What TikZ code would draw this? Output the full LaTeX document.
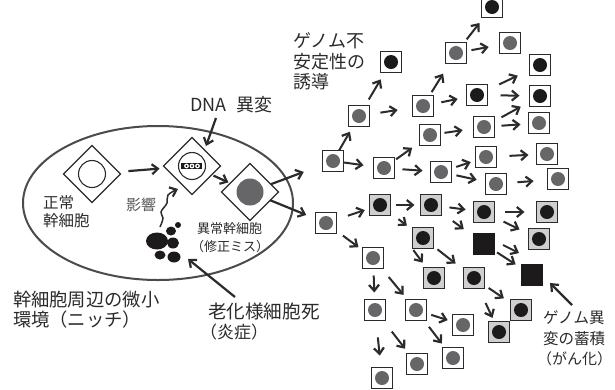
\documentclass[tikz,border=0pt]{standalone}
\usepackage{fontspec}
\setmainfont{Noto Sans CJK JP}
\usetikzlibrary{arrows.meta,shapes.geometric}
\definecolor{ink}{HTML}{2B2B2B}
\definecolor{cellgrey}{HTML}{666668}
\definecolor{cellblack}{HTML}{1C1A1B}
\definecolor{shade}{HTML}{CFCFCF}
\tikzset{
  x=1pt,y=-1pt,
  box/.style={draw=ink,line width=1.4pt,minimum size=21pt,inner sep=0pt,outer sep=0pt,rectangle},
  greycell/.style={box,fill=white,path picture={\fill[cellgrey] (path picture bounding box.center) circle (7pt);}},
  blackcell/.style={box,fill=white,path picture={\fill[cellblack] (path picture bounding box.center) circle (7pt);}},
  shadecell/.style={box,fill=shade,path picture={\fill[cellblack] (path picture bounding box.center) circle (7pt);}},
  solidcell/.style={box,draw=cellblack,fill=cellblack},
  stem/.style={draw=ink,line width=1.3pt,diamond,aspect=1,minimum width=57pt,minimum height=57pt,inner sep=0pt,outer sep=0pt,fill=white},
  arr/.style={draw=ink,line width=2pt,-{Straight Barb[length=6pt,width=10pt,line width=2.2pt]}},
  big/.style={arr,line width=2.2pt},
  lbl/.style={inner sep=0pt,outer sep=0pt,text=ink,align=left,anchor=north west},
  blob/.style={ellipse,fill=cellblack,inner sep=0pt,outer sep=0pt},
  sp/.style 2 args={shorten <=#1pt,shorten >=#2pt}
}
\begin{document}
\begin{tikzpicture}
\useasboundingbox (0,0) rectangle (615,389);
\fill[white] (0,0) rectangle (615,389);

% the niche
\draw[draw=ink!85,line width=2pt] (158,203) ellipse (135pt and 77pt);

% stem cell stages
\node[stem] (normal) at (92,174) {};
\draw[ink,line width=1.1pt] (normal.center) circle (13.5pt);
\node[stem] (mutated) at (192,166) {};
\draw[ink,line width=1.1pt] (mutated.center) circle (13.5pt);
\fill[cellblack] (181,163) rectangle (202,169);
\foreach \dx in {186.5,192,197.5}{
  \fill[white] (\dx,166) circle (2.4pt);
  \fill[cellblack] (\dx,166) circle (1.2pt);
}
\node[stem] (abnormal) at (250,192) {};
\fill[cellgrey] (abnormal.center) circle (13.5pt);

% senescent debris
\node[blob,minimum width=22pt,minimum height=17pt] (b1) at (157,241) {};
\node[blob,minimum width=10pt,minimum height=9pt] (b2) at (171,231) {};
\node[blob,minimum width=6pt,minimum height=6pt] (b3) at (178,225) {};
\node[blob,minimum width=12pt,minimum height=11pt] (b4) at (173,243) {};
\node[blob,minimum width=11pt,minimum height=9pt] (b5) at (160,255) {};
\node[blob,minimum width=13pt,minimum height=11pt] (b6) at (174,257) {};

% clonal cells, white with grey nucleus
\foreach \n/\px/\py in {A/333/161,B/359/116,D/384/168,E/423/106,F/430/135,G/441/172,
  H/456/53,J/484/127,K/486/157,L/496/184,N/510/43,Q/539/123,R/547/154,S/558/179,
  T/326/223,b/373/258,f/375/310,g/416/310,h/463/325,k/453/358,l/417/364,m/382/378}
  \node[greycell] (\n) at (\px,\py) {};
% white with black nucleus
\foreach \n/\px/\py in {C/391/62,I/477/95,M/492/7,O/540/65,P/540/96}
  \node[blackcell] (\n) at (\px,\py) {};
% shaded with black nucleus
\foreach \n/\px/\py in {U/380/205,V/431/205,W/484/212,X/547/212,Y/423/238,a/539/239,
  c/434/278,d/474/278,i/521/310,j/499/332}
  \node[shadecell] (\n) at (\px,\py) {};
% fully transformed
\node[solidcell] (Z) at (484,244) {};
\node[solidcell] (e) at (532,275) {};

% labels
\node[lbl] (dna) at (190,96) {\fontsize{18}{20}\selectfont DNA\hspace{10pt}異変};
\node[lbl,font=\fontsize{18}{20.3}\selectfont] (instab) at (293,33) {ゲノム不\\安定性の\\誘導};
\node[lbl,font=\fontsize{15.5}{18}\selectfont] (stemlbl) at (43,195) {正常\\幹細胞};
\node[lbl,text=ink!80,font=\fontsize{15}{17}\selectfont] (effect) at (126,198) {影響};
\node[lbl,font=\fontsize{13}{17}\selectfont] (abn) at (197,223) {異常幹細胞};
\node[lbl,font=\fontsize{13}{17}\selectfont] (abn2) at (191,240) {（修正ミス）};
\node[lbl,font=\fontsize{18.3}{20}\selectfont] (niche) at (13,291) {幹細胞周辺の微小\\環境（ニッチ）};
\node[lbl,font=\fontsize{18.6}{20}\selectfont] (aged) at (208,303) {老化様細胞死};
\node[lbl,font=\fontsize{17}{20}\selectfont] (infl) at (200,324) {（炎症）};
\node[lbl,font=\fontsize{15.5}{21}\selectfont] (acc) at (543,311) {ゲノム異\\変の蓄積};
\node[lbl,font=\fontsize{15}{20}\selectfont] (acc2) at (537,352) {（がん化）};

% free ends of the thicker arrows
\coordinate (dnaTail) at (216,118);
\coordinate (dnaTip) at (206,146);
\coordinate (agedTail) at (235,297);
\coordinate (agedTip) at (188,259);
\coordinate (accTail) at (572,305);
\coordinate (accTip) at (550,283);
\draw[big] (dnaTail) -- (dnaTip);
\draw[big] (agedTail) -- (agedTip);
\draw[big] (accTail) -- (accTip);

% progression inside the niche
\draw[big,sp={10}{6}] (normal) -- (mutated);
\draw[big,sp={2}{2}] (mutated) -- (abnormal);
\draw[big,sp={0}{20}] (abnormal) -- (A);
\draw[big,sp={0}{10}] (abnormal) -- (T);
\draw[arr,line width=1.5pt] plot[smooth,tension=0.7] coordinates {(160,227) (163,218) (161,212) (167,203) (168,195) (178,189)};

% clonal expansion, upper part
\draw[arr,sp={0}{6}] (A) -- (B);
\draw[arr,sp={7}{8}] (B) -- (C);
\draw[arr,sp={11}{15}] (B) -- (E);
\draw[arr,sp={0}{10}] (A) -- (D);
\draw[arr,sp={2}{9}] (D) -- (F);
\draw[arr,sp={8}{8}] (D) -- (G);
\draw[arr,sp={5}{5}] (G) -- (K);
\draw[arr,sp={5}{9}] (G) -- (L);
\draw[arr,sp={4}{11}] (F) -- (J);
\draw[arr,sp={4}{12}] (E) -- (H);
\draw[arr,sp={8}{9}] (E) -- (I);
\draw[arr,sp={4}{7}] (H) -- (M);
\draw[arr,sp={5}{11}] (H) -- (N);
\draw[arr,sp={13}{13}] (I) -- (O);
\draw[arr,sp={13}{10}] (I) -- (P);
\draw[arr,sp={8}{10}] (J) -- (P);
\draw[arr,sp={7}{8}] (J) -- (Q);
\draw[arr,sp={13}{8}] (K) -- (R);
\draw[arr,sp={11}{14}] (L) -- (S);

% clonal expansion, lower part
\draw[arr,sp={12}{5}] (T) -- (U);
\draw[arr,sp={5}{6}] (U) -- (V);
\draw[arr,sp={8}{8}] (V) -- (W);
\draw[arr,sp={10}{12}] (W) -- (X);
\draw[arr,sp={10}{10}] (W) -- (a);
\draw[arr,sp={14}{12}] (V) -- (Z);
\draw[arr,sp={10}{7}] (U) -- (Y);
\draw[arr,sp={5}{10}] (Y) -- (d);
\draw[arr,sp={43}{6}] (U) -- (c);
\draw[arr,sp={8}{5}] (T) -- (b);
\draw[arr,sp={7}{7}] (b) -- (f);
\draw[arr,sp={11}{6}] (b) -- (g);
\draw[arr,sp={5}{8}] (d) -- (i);
\draw[arr,sp={16}{4}] (d) -- (j);
\draw[arr,sp={5}{5}] (g) -- (h);
\draw[arr,sp={8}{5}] (g) -- (k);
\draw[arr,sp={17}{12}] (f) -- (m);
\draw[arr,sp={14}{6}] (f) -- (l);
\draw[arr,sp={3}{7}] (Z) -- (e);
\coordinate (zTail) at (503,245);
\coordinate (zTip) at (519,253);
\draw[arr] (zTail) -- (zTip);
\end{tikzpicture}
\end{document}
